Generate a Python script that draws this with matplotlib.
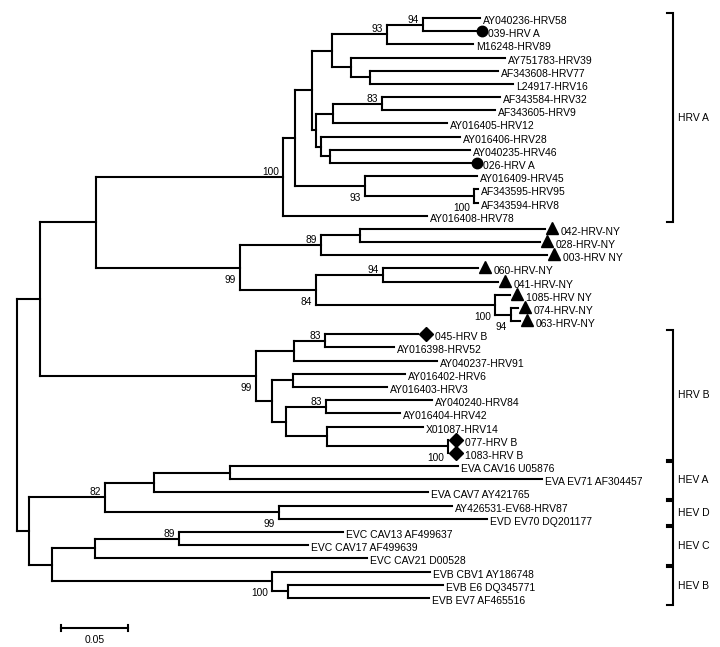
import matplotlib.pyplot as plt
from matplotlib.transforms import offset_copy, blended_transform_factory

plt.rcParams['font.family'] = ['Liberation Sans', 'DejaVu Sans']

# subtrees in Newick form: branch lengths (substitutions/site), bootstrap after ')'
hrv_a = ("((((((AY040236-HRV58:0.0425,039-HRV A:0.0403)94:0.0269,M16248-HRV89:0.0642)93:0.0410,"
         "(AY751783-HRV39:0.1149,(AF343608-HRV77:0.0955,L24917-HRV16:0.1067):0.0142):0.0142):0.0149,"
         "(((AF343584-HRV32:0.0881,AF343605-HRV9:0.0843)83:0.0366,AY016405-HRV12:0.0851):0.0127,"
         "(AY016406-HRV28:0.1037,(AY040235-HRV46:0.1045,026-HRV A:0.1060):0.0067):0.0037):0.0030):0.0127,"
         "(AY016409-HRV45:0.0836,(AF343595-HRV95:0.0030,AF343594-HRV8:0.0030)100:0.0813)93:0.0522):0.0090,"
         "AY016408-HRV78:0.1075)100")
hrv_ny = ("(((042-HRV-NY:0.1381,028-HRV-NY:0.1343):0.0291,003-HRV NY:0.1687)89:0.0604,"
          "((060-HRV-NY:0.0709,041-HRV-NY:0.0858)94:0.0500,"
          "(1085-HRV NY:0.0112,(074-HRV-NY:0.0052,063-HRV-NY:0.0067)94:0.0119)100:0.1336)84:0.0567)99")
hrv_b = ("(((045-HRV B:0.0694,AY016398-HRV52:0.0515)83:0.0231,AY040237-HRV91:0.1067):0.0284,"
         "((AY016402-HRV6:0.0836,AY016403-HRV3:0.0701):0.0157,"
         "((AY040240-HRV84:0.0791,AY016404-HRV42:0.0552)83:0.0299,"
         "(X01087-HRV14:0.0716,(077-HRV B:0,1083-HRV B:0)100:0.0903):0.0306):0.0104):0.0119)99")
hev = ("((((EVA CAV16 U05876:0.1701,EVA EV71 AF304457:0.2328):0.0567,EVA CAV7 AY421765:0.2045):0.0366,"
       "(AY426531-EV68-HRV87:0.1291,EVD EV70 DQ201177:0.1552)99:0.1299)82:0.0567,"
       "(((EVC CAV13 AF499637:0.1224,EVC CAV17 AF499639:0.0963)89:0.0627,EVC CAV21 D00528:0.2030):0.0321,"
       "(EVB CBV1 AY186748:0.1179,(EVB E6 DQ345771:0.1157,EVB EV7 AF465516:0.1052):0.0119)100:0.1642):0.0172)")
tree_str = ("(((" + hrv_a + ":0.1396," + hrv_ny + ":0.1075):0.0418," + hrv_b + ":0.1612):0.0172,"
            + hev + ":0.0090);")

circle_leaves = ['039-HRV A', '026-HRV A']
triangle_leaves = ['042-HRV-NY', '028-HRV-NY', '003-HRV NY', '060-HRV-NY', '041-HRV-NY',
                   '1085-HRV NY', '074-HRV-NY', '063-HRV-NY']
diamond_leaves = ['045-HRV B', '077-HRV B', '1083-HRV B']

groups = ['HRV A', 'HRV B', 'HEV A', 'HEV D', 'HEV C', 'HEV B']
group_first = ['AY040236-HRV58', '045-HRV B', 'EVA CAV16 U05876', 'AY426531-EV68-HRV87',
               'EVC CAV13 AF499637', 'EVB CBV1 AY186748']
group_last = ['AY016408-HRV78', '1083-HRV B', 'EVA CAV7 AY421765', 'EVD EV70 DQ201177',
              'EVC CAV21 D00528', 'EVB EV7 AF465516']

scale_len = 0.05


def parse(s):
    pos = 0

    def node():
        nonlocal pos
        n = {'children': [], 'name': '', 'len': 0.0, 'support': ''}
        if s[pos] == '(':
            pos += 1
            n['children'].append(node())
            while s[pos] == ',':
                pos += 1
                n['children'].append(node())
            pos += 1
        start = pos
        while s[pos] not in ':,);':
            pos += 1
        lab = s[start:pos].strip()
        if n['children']:
            n['support'] = lab
        else:
            n['name'] = lab
        if s[pos] == ':':
            pos += 1
            start = pos
            while s[pos] not in ',);':
                pos += 1
            n['len'] = float(s[start:pos])
        return n

    return node()


root = parse(tree_str)
leaves = []


def layout(n, x0):
    n['x'] = x0 + n['len']
    if not n['children']:
        n['y'] = len(leaves)
        leaves.append(n)
    else:
        for c in n['children']:
            layout(c, n['x'])
        n['y'] = (n['children'][0]['y'] + n['children'][-1]['y']) / 2


layout(root, 0.0)
leaf_y = {lf['name']: lf['y'] for lf in leaves}

fig = plt.figure(figsize=(7.2, 6.47), dpi=100)
ax = fig.add_axes([0, 0, 1, 1])
ax.axis('off')
ax.set_xlim(-17 / 1340, 703 / 1340)
ax.set_ylim((647 - 18) / 13.18, -18 / 13.18)

lw = 1.5
fs = 7.5
kw = dict(color='black', lw=lw, solid_capstyle='projecting')


def off(dx, dy):
    return offset_copy(ax.transData, fig=fig, x=dx, y=dy, units='dots')


def draw(n, upper=None):
    if n['children']:
        ys = [c['y'] for c in n['children']]
        ax.plot([n['x'], n['x']], [min(ys), max(ys)], **kw)
        for i, c in enumerate(n['children']):
            ax.plot([n['x'], c['x']], [c['y'], c['y']], **kw)
            draw(c, upper=(i == 0))
        if n['support'] and upper is not None:
            dy = 5 if upper else -12
            ax.text(n['x'], n['y'], n['support'], fontsize=fs - 0.2, ha='right', va='center',
                    transform=off(-4, dy))
    else:
        name = n['name']
        if name in circle_leaves:
            ax.plot([n['x']], [n['y']], marker='o', ms=7.5, color='black',
                    transform=off(5, 0))
            tx = 11
        elif name in triangle_leaves:
            ax.plot([n['x']], [n['y']], marker='^', ms=9, color='black',
                    transform=off(7, 1))
            tx = 16
        elif name in diamond_leaves:
            ax.plot([n['x']], [n['y']], marker='D', ms=7.5, color='black',
                    transform=off(8, 0))
            tx = 17
        else:
            tx = 3
        ax.text(n['x'], n['y'], name, fontsize=fs, ha='left', va='center',
                transform=off(tx, -3))


draw(root)

# group brackets on the right
bt = blended_transform_factory(ax.transAxes, ax.transData)
bx, tick = 673 / 720, 667 / 720
for g, a, b in zip(groups, group_first, group_last):
    y0 = leaf_y[a] - 0.35
    y1 = leaf_y[b] + 0.5
    ax.plot([tick, bx, bx, tick], [y0, y0, y1, y1], color='black', lw=lw, transform=bt,
            solid_joinstyle='miter')
    ax.text(678 / 720, (y0 + y1) / 2, g, fontsize=fs, ha='left', va='center', transform=bt)

# scale bar
sx, sy = 0.0328, len(leaves) + 1.28
ax.plot([sx, sx + scale_len], [sy, sy], color='black', lw=lw)
for xx in (sx, sx + scale_len):
    ax.plot([xx, xx], [sy - 0.25, sy + 0.25], color='black', lw=lw)
ax.text(sx + scale_len / 2, sy + 0.95, '%.2f' % scale_len, fontsize=fs, ha='center', va='center')

fig.savefig('out.png', dpi=100)
